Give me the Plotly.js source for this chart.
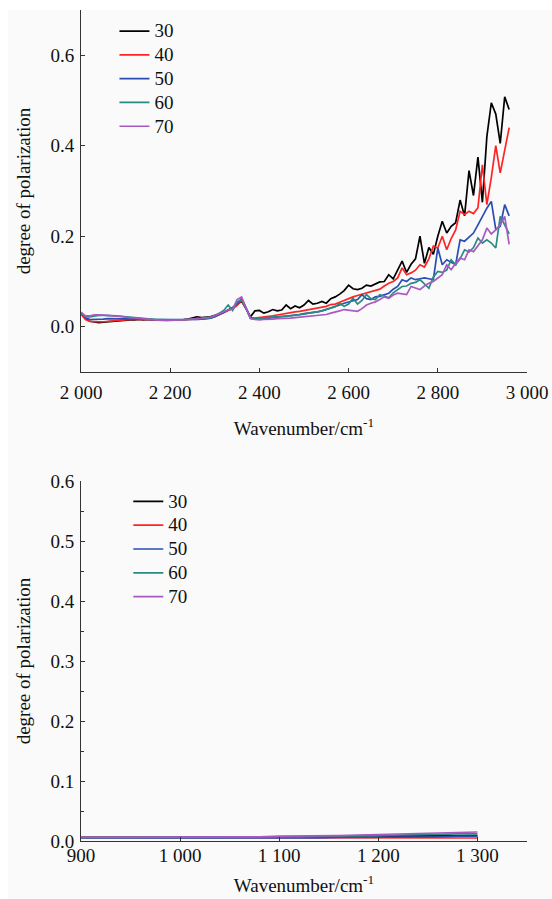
<!DOCTYPE html>
<html>
<head>
<meta charset="utf-8">
<script src="https://cdn.plot.ly/plotly-3.0.1.min.js"></script>
<style>
html,body{margin:0;padding:0;background:#fff;}
#chart{width:552px;height:899px;background:linear-gradient(to right,#fff 8px,transparent 8px),linear-gradient(to bottom,#fff 10px,#fafafa 10px);}
</style>
</head>
<body>
<div id="chart"></div>
<script>
// ---- top panel: 2000-3000 cm-1 ----
const wnTop = [2000,2010,2020,2030,2040,2050,2060,2070,2080,2090,2100,2110,2120,2130,2140,2150,2160,2170,2180,2190,2200,2210,2220,2230,2240,2250,2260,2270,2280,2290,2300,2310,2320,2330,2340,2350,2360,2370,2380,2390,2400,2410,2420,2430,2440,2450,2460,2470,2480,2490,2500,2510,2520,2530,2540,2550,2560,2570,2580,2590,2600,2610,2620,2630,2640,2650,2660,2670,2680,2690,2700,2710,2720,2730,2740,2750,2760,2770,2780,2790,2800,2810,2820,2830,2840,2850,2860,2870,2880,2890,2900,2910,2920,2930,2940,2950,2960];
const top30 = [0.030,0.018,0.012,0.010,0.009,0.010,0.011,0.012,0.013,0.014,0.015,0.015,0.015,0.016,0.015,0.016,0.015,0.015,0.015,0.016,0.015,0.016,0.015,0.016,0.017,0.019,0.022,0.020,0.021,0.022,0.025,0.028,0.032,0.037,0.042,0.049,0.056,0.040,0.022,0.035,0.036,0.030,0.033,0.038,0.035,0.037,0.048,0.040,0.046,0.042,0.048,0.058,0.050,0.052,0.056,0.052,0.062,0.066,0.072,0.080,0.092,0.084,0.082,0.085,0.092,0.090,0.094,0.099,0.100,0.115,0.106,0.125,0.145,0.120,0.138,0.150,0.200,0.140,0.175,0.160,0.200,0.233,0.207,0.222,0.230,0.280,0.245,0.345,0.290,0.375,0.275,0.420,0.495,0.470,0.405,0.508,0.480];
const top40 = [0.028,0.016,0.012,0.011,0.011,0.011,0.012,0.013,0.013,0.015,0.016,0.017,0.017,0.016,0.016,0.016,0.015,0.015,0.015,0.014,0.014,0.014,0.015,0.015,0.016,0.016,0.017,0.017,0.018,0.019,0.022,0.026,0.031,0.036,0.040,0.047,0.058,0.040,0.020,0.019,0.020,0.021,0.023,0.024,0.026,0.028,0.030,0.031,0.033,0.034,0.036,0.038,0.040,0.041,0.043,0.045,0.049,0.050,0.054,0.058,0.063,0.066,0.069,0.072,0.075,0.078,0.080,0.083,0.090,0.096,0.100,0.108,0.130,0.115,0.119,0.125,0.137,0.132,0.150,0.178,0.174,0.200,0.170,0.195,0.214,0.255,0.248,0.255,0.250,0.263,0.358,0.270,0.330,0.400,0.340,0.390,0.440];
const top50 = [0.030,0.020,0.016,0.016,0.017,0.017,0.018,0.018,0.018,0.018,0.018,0.018,0.017,0.017,0.017,0.016,0.016,0.016,0.015,0.015,0.015,0.015,0.015,0.015,0.016,0.016,0.016,0.017,0.018,0.019,0.022,0.027,0.032,0.038,0.042,0.050,0.062,0.042,0.019,0.017,0.017,0.018,0.019,0.020,0.022,0.023,0.024,0.025,0.026,0.027,0.029,0.030,0.032,0.033,0.035,0.038,0.042,0.045,0.048,0.052,0.055,0.058,0.060,0.071,0.062,0.060,0.066,0.067,0.070,0.074,0.083,0.089,0.104,0.100,0.108,0.104,0.106,0.108,0.106,0.104,0.174,0.137,0.148,0.142,0.137,0.192,0.189,0.198,0.207,0.225,0.244,0.262,0.277,0.215,0.222,0.270,0.245];
const top60 = [0.030,0.022,0.022,0.024,0.025,0.025,0.025,0.024,0.024,0.023,0.022,0.021,0.020,0.019,0.018,0.018,0.017,0.016,0.016,0.015,0.015,0.015,0.015,0.015,0.016,0.017,0.017,0.018,0.019,0.020,0.024,0.030,0.036,0.048,0.036,0.055,0.060,0.040,0.019,0.018,0.019,0.019,0.020,0.021,0.022,0.023,0.023,0.024,0.025,0.027,0.028,0.030,0.031,0.033,0.035,0.038,0.040,0.044,0.052,0.045,0.050,0.063,0.050,0.058,0.071,0.062,0.060,0.071,0.068,0.064,0.075,0.082,0.089,0.090,0.096,0.098,0.104,0.095,0.085,0.110,0.122,0.120,0.125,0.148,0.137,0.150,0.170,0.165,0.175,0.196,0.185,0.192,0.185,0.174,0.244,0.225,0.205];
const top70 = [0.032,0.024,0.024,0.026,0.026,0.026,0.025,0.024,0.024,0.023,0.021,0.020,0.019,0.018,0.017,0.016,0.015,0.014,0.014,0.014,0.014,0.014,0.014,0.015,0.016,0.017,0.018,0.019,0.020,0.021,0.025,0.029,0.034,0.037,0.039,0.060,0.066,0.040,0.018,0.016,0.015,0.016,0.016,0.017,0.018,0.018,0.019,0.019,0.020,0.021,0.022,0.023,0.024,0.025,0.026,0.027,0.030,0.032,0.035,0.038,0.037,0.036,0.034,0.040,0.048,0.052,0.055,0.060,0.066,0.063,0.070,0.074,0.072,0.071,0.089,0.085,0.082,0.090,0.096,0.100,0.108,0.115,0.137,0.126,0.140,0.152,0.148,0.170,0.166,0.180,0.192,0.218,0.205,0.214,0.225,0.244,0.182];

// ---- bottom panel: 900-1300 cm-1 ----
const wnBot = [900,920,940,960,980,1000,1020,1040,1060,1080,1100,1120,1140,1160,1180,1200,1220,1240,1260,1280,1300];
const bot30 = [0.006,0.006,0.006,0.006,0.007,0.007,0.007,0.006,0.006,0.006,0.006,0.006,0.006,0.007,0.007,0.007,0.008,0.008,0.008,0.009,0.009];
const bot40 = [0.006,0.006,0.006,0.006,0.006,0.006,0.006,0.006,0.005,0.005,0.005,0.005,0.005,0.006,0.006,0.006,0.006,0.006,0.006,0.006,0.005];
const bot50 = [0.005,0.005,0.005,0.005,0.005,0.005,0.005,0.005,0.004,0.004,0.005,0.005,0.005,0.006,0.006,0.006,0.007,0.007,0.007,0.008,0.008];
const bot60 = [0.006,0.006,0.006,0.006,0.006,0.006,0.006,0.006,0.006,0.007,0.007,0.007,0.008,0.008,0.009,0.009,0.010,0.010,0.011,0.012,0.012];
const bot70 = [0.006,0.006,0.006,0.006,0.006,0.006,0.006,0.006,0.006,0.007,0.008,0.008,0.009,0.009,0.010,0.011,0.011,0.012,0.013,0.015,0.015];

const seriesNames = ['30','40','50','60','70'];
const seriesColors = ['#000000','#ff2424','#2a4db5','#2a8a82','#a85ac0'];

const topXTicks = [2000,2200,2400,2600,2800,3000];
const topXLabels = ['2 000','2 200','2 400','2 600','2 800','3 000'];
const botXTicks = [900,1000,1100,1200,1300];
const botXLabels = ['900','1 000','1 100','1 200','1 300'];

const FONT = 'Liberation Serif, DejaVu Serif, serif';
const AX = '#333333';
const TXT = '#111111';

const topY = [top30, top40, top50, top60, top70];
const botY = [bot30, bot40, bot50, bot60, bot70];

// legend text drawn at 19px while row spacing follows the 16px legend font
const legendLabel = n => '<span style="font-size:19px">' + n + '</span>';

const traces = [];
topY.forEach((ys, i) => traces.push({
  x: wnTop, y: ys, type: 'scatter', mode: 'lines', name: legendLabel(seriesNames[i]),
  line: {color: seriesColors[i], width: 1.7}, xaxis: 'x', yaxis: 'y', legend: 'legend'
}));
botY.forEach((ys, i) => traces.push({
  x: wnBot, y: ys, type: 'scatter', mode: 'lines', name: legendLabel(seriesNames[i]),
  line: {color: seriesColors[i], width: 1.7}, xaxis: 'x2', yaxis: 'y2', legend: 'legend2'
}));

const axBase = {
  showline: true, linecolor: AX, linewidth: 1, showgrid: false, zeroline: false,
  ticks: 'inside', ticklen: 4, tickcolor: AX, tickwidth: 1, ticklabeloverflow: 'allow',
  tickfont: {family: FONT, size: 19, color: TXT}, fixedrange: true
};

const layout = {
  width: 552, height: 899,
  margin: {l: 81, r: 25, t: 10, b: 58, pad: 0},
  paper_bgcolor: 'rgba(0,0,0,0)', plot_bgcolor: 'rgba(0,0,0,0)',
  font: {family: FONT, size: 19, color: TXT},
  showlegend: true,
  xaxis: Object.assign({}, axBase, {
    anchor: 'y', domain: [0, 1], range: [2000, 3000],
    tickmode: 'array', tickvals: topXTicks, ticktext: topXLabels, ticklabelstandoff: 3,
    title: {text: 'Wavenumber/cm<sup>-1</sup>', font: {family: FONT, size: 19, color: TXT}, standoff: 19}
  }),
  yaxis: Object.assign({}, axBase, {
    anchor: 'x', domain: [0.5644, 1], range: [-0.1, 0.7],
    tickmode: 'linear', tick0: 0, dtick: 0.2, tickformat: '.1f', ticklabelstandoff: 2,
    title: {text: 'degree of polarization', font: {family: FONT, size: 19, color: TXT}, standoff: 14}
  }),
  xaxis2: Object.assign({}, axBase, {
    anchor: 'y2', domain: [0, 1], range: [900, 1350],
    tickmode: 'array', tickvals: botXTicks, ticktext: botXLabels, ticklabelstandoff: -3,
    title: {text: 'Wavenumber/cm<sup>-1</sup>', font: {family: FONT, size: 19, color: TXT}, standoff: 13}
  }),
  yaxis2: Object.assign({}, axBase, {
    anchor: 'x2', domain: [0, 0.4332], range: [0, 0.6],
    tickmode: 'linear', tick0: 0, dtick: 0.1, tickformat: '.1f', ticklabelstandoff: 2,
    minor: {ticks: 'inside', ticklen: 3, dtick: 0.05, tickcolor: AX},
    title: {text: 'degree of polarization', font: {family: FONT, size: 19, color: TXT}, standoff: 14}
  }),
  legend: {
    x: 0.075, y: 0.995, xanchor: 'left', yanchor: 'top',
    bgcolor: 'rgba(0,0,0,0)', borderwidth: 0, tracegroupgap: 0,
    font: {family: FONT, size: 16, color: TXT}
  },
  legend2: {
    x: 0.106, y: 0.429, xanchor: 'left', yanchor: 'top',
    bgcolor: 'rgba(0,0,0,0)', borderwidth: 0, tracegroupgap: 0,
    font: {family: FONT, size: 16, color: TXT}
  }
};

Plotly.newPlot('chart', traces, layout, {displayModeBar: false, staticPlot: true});
</script>
</body>
</html>
